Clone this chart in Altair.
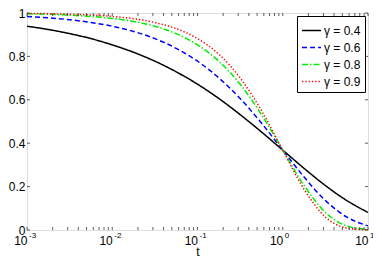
import altair as alt
import pandas as pd

# sample times (log-spaced, quarter decades)
t_vals = [0.001, 0.00178, 0.00316, 0.00562, 0.01, 0.0178, 0.0316, 0.0562,
          0.1, 0.178, 0.316, 0.562, 1.0, 1.78, 3.16, 5.62, 10.0]

# curve values
g04 = [0.939, 0.924, 0.905, 0.882, 0.853, 0.819, 0.778, 0.729,
       0.672, 0.606, 0.532, 0.452, 0.368, 0.284, 0.205, 0.136, 0.081]
g06 = [0.984, 0.978, 0.969, 0.956, 0.939, 0.915, 0.882, 0.837,
       0.778, 0.701, 0.606, 0.493, 0.368, 0.244, 0.136, 0.060, 0.019]
g08 = [0.996, 0.994, 0.990, 0.984, 0.975, 0.961, 0.939, 0.905,
       0.853, 0.778, 0.672, 0.532, 0.368, 0.205, 0.081, 0.019, 0.002]
g09 = [0.998, 0.997, 0.994, 0.991, 0.984, 0.974, 0.956, 0.928,
       0.882, 0.810, 0.701, 0.551, 0.368, 0.187, 0.060, 0.009, 0.0004]

series_names = ["γ = 0.4", "γ = 0.6", "γ = 0.8", "γ = 0.9"]
series_values = [g04, g06, g08, g09]
colors = ["#000000", "#0000ff", "#00ee00", "#ff0000"]
dashes = [[1, 0], [5, 3], [6, 2, 1.5, 2], [1.3, 2]]

x_major = [0.001, 0.01, 0.1, 1, 10]
x_exponents = ["-3", "-2", "-1", "0", "1"]
x_minor = [m * d for d in [0.001, 0.01, 0.1, 1] for m in range(2, 10)]
y_ticks = [0, 0.2, 0.4, 0.6, 0.8, 1]

W, H = 341, 217

rows = []
for name, vals in zip(series_names, series_values):
    for t, v in zip(t_vals, vals):
        rows.append({"t": t, "v": v, "series": name})
df = pd.DataFrame(rows)

df_xt = pd.DataFrame({"t": x_major + x_minor})
df_exp = pd.DataFrame({"t": x_major, "e": x_exponents})
df_yt = pd.DataFrame({"v": y_ticks})

xscale = alt.Scale(type="log", domain=[0.001, 10], nice=False)
yscale = alt.Scale(domain=[0, 1], nice=False)

lines = alt.Chart(df).mark_line(strokeWidth=1.5, interpolate="monotone").encode(
    x=alt.X("t:Q", scale=xscale, title="t",
            axis=alt.Axis(values=x_major, labelExpr="'10'", labelAlign="right",
                          labelPadding=5, titlePadding=0, domain=False,
                          ticks=False, grid=False, labelFontSize=12,
                          titleFontSize=12, titleFontWeight="normal",
                          labelFlush=False)),
    y=alt.Y("v:Q", scale=yscale, title=None,
            axis=alt.Axis(values=y_ticks, labelExpr="'' + datum.value",
                          labelPadding=2, domain=False, ticks=False,
                          grid=False, labelFontSize=12, labelFlush=False)),
    color=alt.Color("series:N", scale=alt.Scale(domain=series_names, range=colors),
                    legend=alt.Legend(title=None)),
    strokeDash=alt.StrokeDash("series:N", scale=alt.Scale(domain=series_names, range=dashes),
                              legend=alt.Legend(title=None)),
)

tick_color = "#333333"
xt_bottom = alt.Chart(df_xt).mark_rule(color=tick_color, strokeWidth=0.8).encode(
    x=alt.X("t:Q", scale=xscale), y=alt.value(H), y2=alt.value(H - 3))
xt_top = alt.Chart(df_xt).mark_rule(color=tick_color, strokeWidth=0.8).encode(
    x=alt.X("t:Q", scale=xscale), y=alt.value(0), y2=alt.value(3))
yt_left = alt.Chart(df_yt).mark_rule(color=tick_color, strokeWidth=0.8).encode(
    y=alt.Y("v:Q", scale=yscale), x=alt.value(0), x2=alt.value(3))
yt_right = alt.Chart(df_yt).mark_rule(color=tick_color, strokeWidth=0.8).encode(
    y=alt.Y("v:Q", scale=yscale), x=alt.value(W), x2=alt.value(W - 3))

exps = alt.Chart(df_exp).mark_text(align="left", baseline="top", fontSize=8,
                                   dx=2, font="Liberation Sans").encode(
    x=alt.X("t:Q", scale=xscale), y=alt.value(H + 2), text="e:N")

chart = alt.layer(lines, xt_bottom, xt_top, yt_left, yt_right, exps).properties(
    width=W, height=H,
    autosize=alt.AutoSizeParams(type="none"),
    padding={"left": 19, "top": 5, "right": 5, "bottom": 29},
).configure_view(stroke="black", strokeWidth=1).configure(
    font="Liberation Sans"
).configure_legend(
    orient="top-right", offset=3, padding=4, strokeColor="black",
    fillColor="white", symbolType="stroke", symbolSize=360,
    symbolStrokeWidth=1.5, labelFontSize=12, rowPadding=0, labelOffset=2,
    cornerRadius=0,
).configure_axis(labelColor="black", titleColor="black")

chart.save("out.html", embed_options={"renderer": "svg", "actions": False})
